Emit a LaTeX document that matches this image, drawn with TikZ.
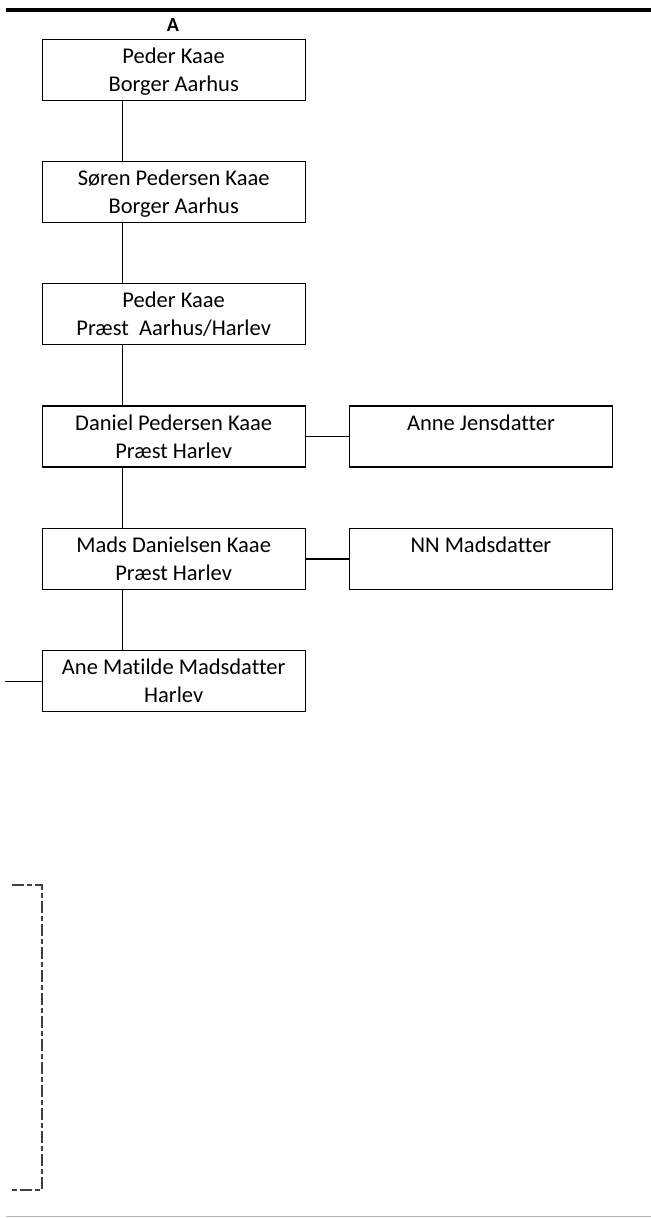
\documentclass[tikz,border=0pt]{standalone}
\usepackage{fontspec}
\setmainfont{Carlito}[Ligatures=NoCommon]
\usetikzlibrary{positioning}

\begin{document}
\begin{tikzpicture}[x=1bp,y=-1bp,
    person/.style={draw, line width=1.3bp, minimum width=263bp, minimum height=61bp,
        inner sep=0pt, align=center, text height=44bp, text depth=1bp,
        font=\fontsize{22.5bp}{28bp}\selectfont},
    link/.style={line width=1.3bp},
    node distance=60bp and 43bp]
    \useasboundingbox (0,0) rectangle (651,1218);
    % Rules
    \draw[line width=3.7bp] (6,9.8) -- (651,9.8);
    \draw[gray!60, line width=1.3bp] (6,1216.5) -- (651,1216.5);
    \node[font=\fontsize{20bp}{24bp}\selectfont\bfseries, anchor=base] (title) at (173,31) {A};

    % Boxes
    \node[person, anchor=north west] (peder) at (41.5,38.5) {Peder Kaae\\Borger Aarhus};
    \node[person, below=of peder] (soeren) {Søren Pedersen Kaae\\Borger Aarhus};
    \node[person, below=of soeren] (pederp) {Peder Kaae\\Præst\ \ Aarhus/Harlev};
    \node[person, below=of pederp] (daniel) {Daniel Pedersen Kaae\\Præst Harlev};
    \node[person, below=of daniel] (mads) {Mads Danielsen Kaae\\Præst Harlev};
    \node[person, below=of mads] (ane) {Ane Matilde Madsdatter\\Harlev};
    \node[person, right=of daniel] (anne) {Anne Jensdatter\\\mbox{}};
    \node[person, right=of mads] (nn) {NN Madsdatter\\\mbox{}};

    % Lines
    \draw[link] ([xshift=-51bp]peder.south) -- ([xshift=-51bp]soeren.north);
    \draw[link] ([xshift=-51bp]soeren.south) -- ([xshift=-51bp]pederp.north);
    \draw[link] ([xshift=-51bp]pederp.south) -- ([xshift=-51bp]daniel.north);
    \draw[link] ([xshift=-51bp]daniel.south) -- ([xshift=-51bp]mads.north);
    \draw[link] ([xshift=-51bp]mads.south) -- ([xshift=-51bp]ane.north);
    \draw[link] (daniel.east) -- (anne.west);
    \draw[link] (mads.east) -- (nn.west);
    \coordinate (aneleft) at ([xshift=-36bp]ane.west);
    \draw[link] (aneleft) -- (ane.west);

    % Bracket
    \coordinate (brtop) at (12,885);
    \coordinate (brbot) at (12,1190);
    \draw[line width=1.2bp, black!75, dash pattern=on 12bp off 3bp on 5bp off 3bp]
        (brtop) -- (42,885) -- (42,1190) -- (brbot);
\end{tikzpicture}
\end{document}
